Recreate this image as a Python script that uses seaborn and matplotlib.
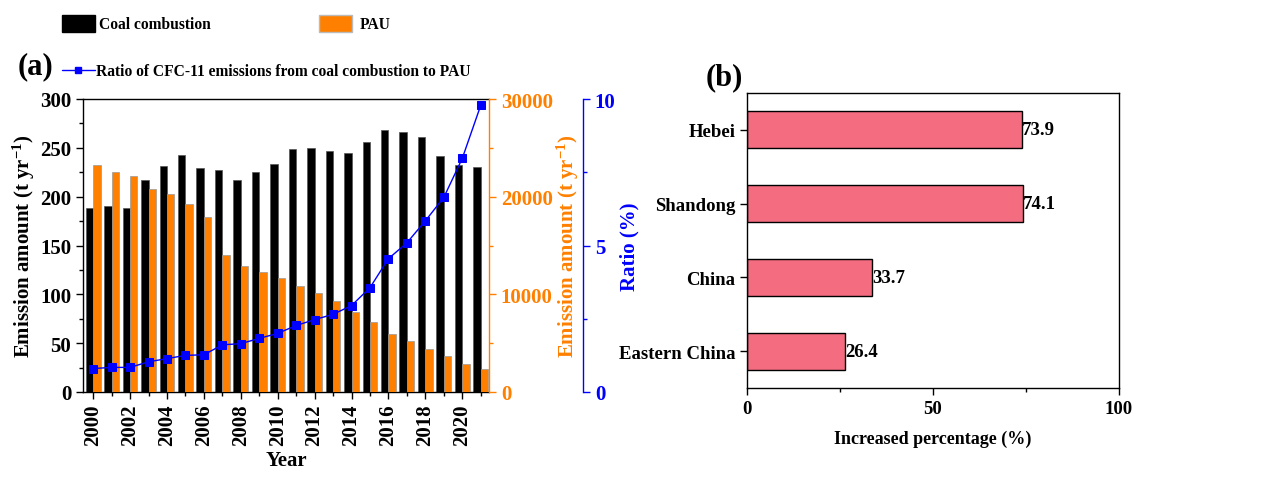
import numpy as np
import pandas as pd
import matplotlib
matplotlib.use("Agg")
import matplotlib.pyplot as plt
from matplotlib.patches import Patch
from matplotlib.lines import Line2D
from matplotlib.ticker import MultipleLocator
import seaborn as sns

# ---------------- data ----------------
years = list(range(2000, 2022))
coal = [188.5, 190.6, 188.2, 217.2, 231.8, 242.7, 229.5, 227.4, 216.8, 225.7, 233.5,
        248.5, 249.6, 247.2, 244.8, 255.7, 268.7, 265.9, 260.8, 242.0, 232.5, 230.5]
pau = [23216, 22500, 22090, 20795, 20250, 19227, 17898, 14045, 12920, 12307, 11625,
       10875, 10125, 9273, 8216, 7159, 5898, 5216, 4432, 3648, 2864, 2318]
ratio = [0.80, 0.84, 0.84, 1.03, 1.14, 1.25, 1.27, 1.61, 1.65, 1.83, 2.00,
         2.27, 2.47, 2.65, 2.95, 3.56, 4.55, 5.09, 5.84, 6.64, 7.97, 9.78]
regions = ["Hebei", "Shandong", "China", "Eastern China"]
increase = [73.9, 74.1, 33.7, 26.4]

# ---------------- style ----------------
sns.set_theme(style="ticks")
plt.rcParams["font.family"] = ["Liberation Serif", "DejaVu Serif"]
plt.rcParams["font.weight"] = "bold"
plt.rcParams["axes.labelweight"] = "bold"
plt.rcParams["mathtext.fontset"] = "custom"
plt.rcParams["mathtext.rm"] = "Liberation Serif:bold"
plt.rcParams["mathtext.bf"] = "Liberation Serif:bold"
plt.rcParams["mathtext.it"] = "Liberation Serif:bold:italic"
plt.rcParams["axes.linewidth"] = 1.0
for k in ("text.color", "axes.labelcolor", "xtick.color", "ytick.color", "axes.edgecolor"):
    plt.rcParams[k] = "black"

ORANGE = "#FF8000"
BLUE = "#0000FF"
PINK = "#F36C7F"

fig = plt.figure(figsize=(12.84, 4.81), dpi=100)
W, H = 1284, 481
def box(l, t, r, b):
    return [l / W, 1 - b / H, (r - l) / W, (b - t) / H]

ax = fig.add_axes(box(83, 100, 489, 393))
ax2 = ax.twinx()
ax3 = ax.twinx()

df_a = pd.DataFrame({"year": years, "coal": coal, "pau": pau, "ratio": ratio})
df_a["xc"] = df_a["year"] - 0.2
df_a["xp"] = df_a["year"] + 0.2

sns.barplot(data=df_a, x="xc", y="coal", native_scale=True, width=0.4, color="black",
            saturation=1, edgecolor="#555555", linewidth=0.5, ax=ax)
sns.barplot(data=df_a, x="xp", y="pau", native_scale=True, width=0.4, color=ORANGE,
            saturation=1, edgecolor="#999999", linewidth=0.5, ax=ax2)
sns.lineplot(data=df_a, x="year", y="ratio", color=BLUE, marker="s", markersize=6,
             markeredgecolor=BLUE, linewidth=1.0, ax=ax3)

FS = 15
for a in (ax, ax2, ax3):
    a.set_xlim(1999.45, 2021.45)
ax.set_ylim(0, 300)
ax2.set_ylim(0, 30000)
ax3.set_ylim(0, 10)

ax.set_xticks(years[::2])
ax.set_xticks(years, minor=True)
ax.set_xticklabels([str(y) for y in years[::2]], rotation=90, fontsize=FS, fontweight="bold")
ax.yaxis.set_major_locator(MultipleLocator(50))
ax.yaxis.set_minor_locator(MultipleLocator(25))
ax2.yaxis.set_major_locator(MultipleLocator(10000))
ax2.yaxis.set_minor_locator(MultipleLocator(5000))
ax3.yaxis.set_major_locator(MultipleLocator(5))
ax3.yaxis.set_minor_locator(MultipleLocator(2.5))

for a in (ax, ax2, ax3):
    a.tick_params(which="major", direction="out", length=5, width=1, labelsize=FS)
    a.tick_params(which="minor", direction="out", length=3, width=1)
    for lab in a.get_yticklabels():
        lab.set_fontweight("bold")

ax.set_xlabel("Year", fontsize=FS, fontweight="bold", labelpad=3)
ax.set_ylabel(r"Emission amount (t yr$^{\mathregular{-1}}$)", fontsize=FS, fontweight="bold",
              labelpad=2)
ax2.set_ylabel(r"Emission amount (t yr$^{\mathregular{-1}}$)", fontsize=FS, fontweight="bold",
               color=ORANGE, labelpad=1.5)
ax3.set_ylabel("Ratio (%)", fontsize=FS, fontweight="bold", color=BLUE, labelpad=3)
ax3.set_xlabel("")
ax2.set_xlabel("")

ax2.spines["right"].set_color(ORANGE)
ax2.tick_params(axis="y", colors=ORANGE, which="both")
ax3.spines["right"].set_position(("outward", 94 * 0.72))
ax3.spines["right"].set_color(BLUE)
ax3.tick_params(axis="y", colors=BLUE, which="both")
for s in ("left", "top", "bottom"):
    ax3.spines[s].set_visible(False)
    ax2.spines[s].set_visible(False)
ax.spines["right"].set_visible(False)
ax2.tick_params(axis="x", which="both", bottom=False, labelbottom=False)
ax3.tick_params(axis="x", which="both", bottom=False, labelbottom=False)

fig.text(18 / W, 1 - 67 / H, "(a)", fontsize=22, fontweight="bold", va="center", ha="left")

# legends
LFS = 11.2
leg1 = fig.legend(handles=[Patch(facecolor="black", edgecolor="black")], labels=["Coal combustion"],
                  loc="center left", bbox_to_anchor=(62 / W, 1 - 24.5 / H), frameon=False,
                  fontsize=LFS, handlelength=2.1, handleheight=1.35, handletextpad=0.3,
                  borderpad=0, borderaxespad=0)
leg2 = fig.legend(handles=[Patch(facecolor=ORANGE, edgecolor="#bbbbbb")], labels=["PAU"],
                  loc="center left", bbox_to_anchor=(319 / W, 1 - 24.5 / H), frameon=False,
                  fontsize=LFS, handlelength=2.1, handleheight=1.35, handletextpad=0.5,
                  borderpad=0, borderaxespad=0)
leg3 = fig.legend(handles=[Line2D([], [], color=BLUE, marker="s", markersize=5, lw=1)],
                  labels=["Ratio of CFC-11 emissions from coal combustion to PAU"],
                  loc="center left", bbox_to_anchor=(62 / W, 1 - 72 / H), frameon=False,
                  fontsize=LFS, handlelength=2.1, handletextpad=0.1,
                  borderpad=0, borderaxespad=0)

# ---------------- panel (b) ----------------
bx = fig.add_axes(box(747, 94, 1119, 389))
df_b = pd.DataFrame({"region": regions, "increase": increase})
sns.barplot(data=df_b, x="increase", y="region", orient="h", color=PINK, saturation=1,
            edgecolor="black", linewidth=1, width=0.5, ax=bx)
BFS = 13.5
bx.set_xlim(0, 100)
bx.xaxis.set_major_locator(MultipleLocator(50))
bx.xaxis.set_minor_locator(MultipleLocator(25))
bx.tick_params(which="major", direction="out", length=5, width=1, labelsize=BFS)
bx.tick_params(which="minor", direction="out", length=3, width=1)
for lab in bx.get_xticklabels() + bx.get_yticklabels():
    lab.set_fontweight("bold")
bx.set_ylabel("")
bx.set_xlabel("Increased percentage (%)", fontsize=13, fontweight="bold", labelpad=9)
for s in bx.spines.values():
    s.set_visible(True)
    s.set_color("black")
bx.bar_label(bx.containers[0], labels=[f"{v:.1f}" for v in increase], padding=0,
             fontsize=13.5, fontweight="bold")
fig.text(706 / W, 1 - 78 / H, "(b)", fontsize=22, fontweight="bold", va="center", ha="left")

fig.savefig("out.png", dpi=100)
